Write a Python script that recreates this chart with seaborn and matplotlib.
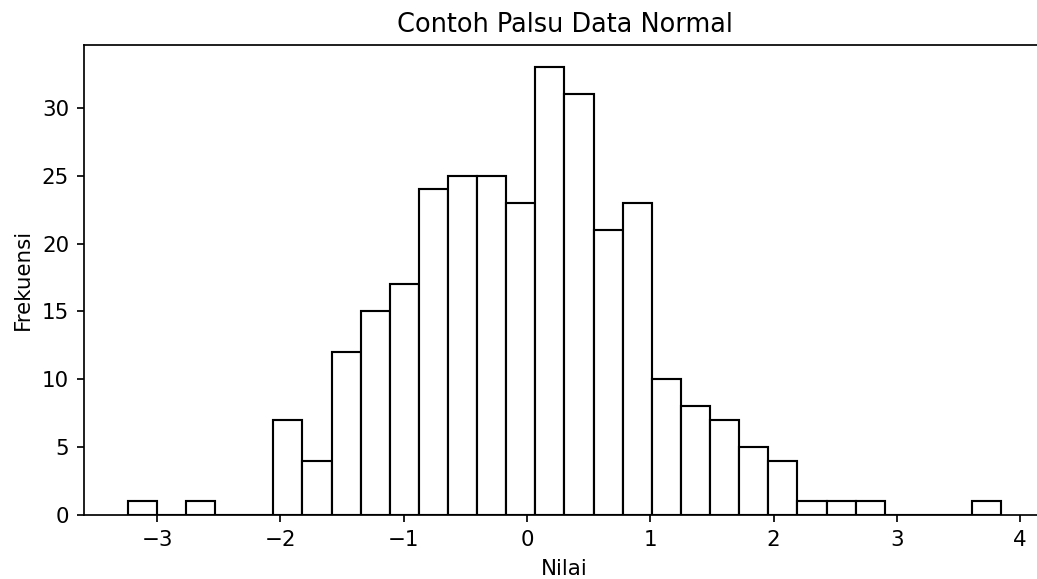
import pandas as pd
import matplotlib
matplotlib.use("Agg")
import matplotlib.pyplot as plt
import seaborn as sns

# histogram counts (30 bins)
counts = [1, 0, 1, 0, 0, 7, 4, 12, 15, 17, 24, 25, 25, 23, 33,
          31, 21, 23, 10, 8, 7, 5, 4, 1, 1, 1, 0, 0, 0, 1]
bin_lo = -3.238
bin_hi = 3.847

n_bins = len(counts)
width = (bin_hi - bin_lo) / n_bins
df = pd.DataFrame({
    'Nilai': [bin_lo + (i + 0.5) * width for i in range(n_bins)],
    'count': counts
})

dpi = 153.7
fig = plt.figure(figsize=(1037 / dpi, 579 / dpi), dpi=dpi)
ax = fig.add_axes([0.081, 0.1105, 0.9267, 0.8123])

sns.histplot(
    data=df,
    x='Nilai',
    weights='count',
    bins=n_bins,
    binrange=(bin_lo, bin_hi),
    color='white',
    edgecolor='black',
    linewidth=1,
    alpha=1,
    ax=ax
)

ax.set_title('Contoh Palsu Data Normal', fontsize=12)
ax.set_xlabel('Nilai')
ax.set_ylabel('Frekuensi')

fig.savefig('out.png', dpi=dpi)
